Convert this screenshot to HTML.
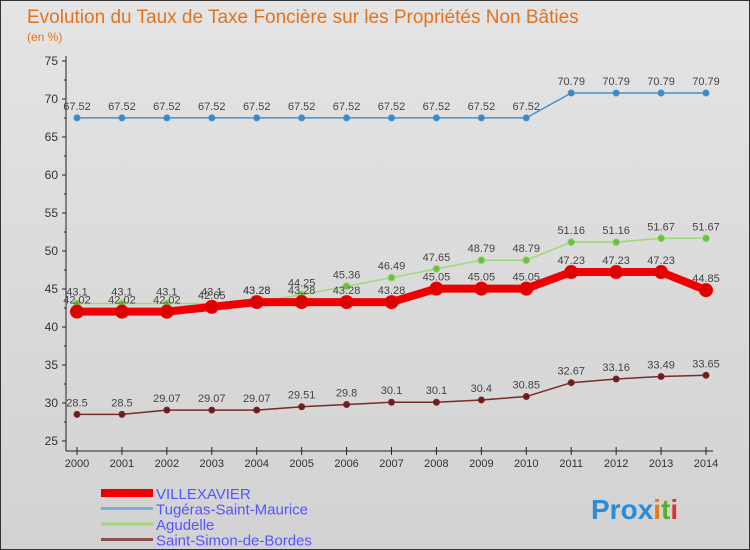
<!DOCTYPE html>
<html><head><meta charset="utf-8"><style>
body{margin:0;}
#c{width:750px;height:550px;position:relative;background:linear-gradient(#e4e4e4,#d2d2d2);font-family:"Liberation Sans",sans-serif;box-sizing:border-box;border:1px solid #333;overflow:hidden}
svg{position:absolute;left:0;top:0}
</style></head><body>
<div id="c">
<svg id="s" width="750" height="550">
<text x="26" y="22" font-size="19" fill="#e2731f">Evolution du Taux de Taxe Foncière sur les Propriétés Non Bâties</text>
<text x="26" y="40" font-size="12" fill="#e2731f">(en %)</text>
<text x="590" y="518" font-size="28" font-weight="bold" fill="#2a8bd6">Pro<tspan fill="#2a8bd6">x</tspan><tspan fill="#e87a1e">i</tspan><tspan fill="#56b030">t</tspan><tspan fill="#e03030">i</tspan></text>
</svg>
</div>
<script>
const years=[2000,2001,2002,2003,2004,2005,2006,2007,2008,2009,2010,2011,2012,2013,2014];
const villexavier=[42.02,42.02,42.02,42.65,43.28,43.28,43.28,43.28,45.05,45.05,45.05,47.23,47.23,47.23,44.85];
const tugeras=[67.52,67.52,67.52,67.52,67.52,67.52,67.52,67.52,67.52,67.52,67.52,70.79,70.79,70.79,70.79];
const agudelle=[43.1,43.1,43.1,43.1,43.28,44.25,45.36,46.49,47.65,48.79,48.79,51.16,51.16,51.67,51.67];
const saintSimon=[28.5,28.5,29.07,29.07,29.07,29.51,29.8,30.1,30.1,30.4,30.85,32.67,33.16,33.49,33.65];
const yTicks=[25,30,35,40,45,50,55,60,65,70,75];
const ns="http://www.w3.org/2000/svg";
const s=document.getElementById('s');
const X=i=>76+i*(705-76)/14;
const Y=v=>440-(v-25)*7.6;
function mk(t,a,p){const e=document.createElementNS(ns,t);for(const k in a)e.setAttribute(k,a[k]);(p||s).appendChild(e);return e;}
// axes
let ya=mk('line',{x1:65,y1:55,x2:65,y2:450,stroke:'#222'});


let xa=mk('line',{x1:65,y1:450,x2:712,y2:450,stroke:'#222'});


yTicks.forEach(v=>{
  mk('line',{x1:61,y1:Y(v),x2:65,y2:Y(v),stroke:'#222'});
  if(v<75) mk('line',{x1:63,y1:Y(v+2.5),x2:65,y2:Y(v+2.5),stroke:'#222'});
  const t=mk('text',{x:57,y:Y(v)+4,'font-size':12,fill:'#333','text-anchor':'end'});
  t.textContent=v;
  
  
});
years.forEach((y,i)=>{
  mk('line',{x1:X(i),y1:446,x2:X(i),y2:454,stroke:'#222'});
  const t=mk('text',{x:X(i),y:466,'font-size':11,fill:'#333','text-anchor':'middle'});
  t.textContent=y;
  
  
});
function series(data,color,dot,w,r,name,lblColor){
  const g=mk('g',{});
  
  
  mk('polyline',{points:data.map((v,i)=>X(i)+','+Y(v)).join(' '),fill:'none',stroke:color,'stroke-width':w,'stroke-linejoin':'round'},g);
  data.forEach((v,i)=>{
    const c=mk('circle',{cx:X(i),cy:Y(v),r:r,fill:dot,stroke:color,'stroke-width':1},g);
    
    
    const t=mk('text',{x:X(i),y:Y(v)-8,'font-size':11,fill:'#444','text-anchor':'middle'},g);
    t.textContent=String(v);
    
    
  });
}
series(saintSimon,'#7a2a2a','#6b1d1d',1.5,3,'saint-simon-series');
series(tugeras,'#4a90c8','#3a88c8',1.5,3,'tugeras-series');
series(agudelle,'#9ed87a','#6cc040',1.5,3.5,'agudelle-series');
series(villexavier,'#ee0000','#dd0000',8,6.5,'villexavier-series');
const leg=[['VILLEXAVIER','#ee0000',8],['Tugéras-Saint-Maurice','#7aaed6',3],['Agudelle','#9ed87a',3],['Saint-Simon-de-Bordes','#8a5050',3]];
leg.forEach((l,i)=>{
  const y=492+i*15.5;
  const g=mk('g',{});
  
  
  mk('line',{x1:100,y1:y,x2:152,y2:y,stroke:l[1],'stroke-width':l[2]},g);
  const t=mk('text',{x:155,y:y+6,'font-size':15,fill:'#5555ff'},g);
  t.textContent=l[0];
});
</script>
</body></html>
